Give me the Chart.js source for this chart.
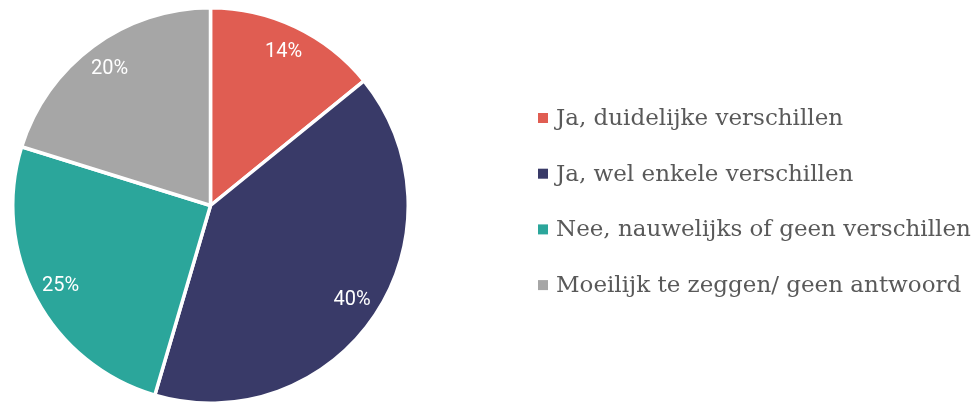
<!DOCTYPE html>
<html>
<head>
<meta charset="utf-8">
<script src="https://cdn.jsdelivr.net/npm/chart.js@4.4.1/dist/chart.umd.min.js"></script>
<style>
html,body{margin:0;padding:0;background:#fff}
#wrap{width:976px;height:405px;position:relative}
</style>
</head>
<body>
<div id="wrap"><canvas id="grafico"></canvas></div>
<script>
let labels = ["Ja, duidelijke verschillen","Ja, wel enkele verschillen","Nee, nauwelijks of geen verschillen","Moeilijk te zeggen/ geen antwoord"]
let valores = [14,40,25,20]
let kleuren = ["#e05d52","#393a68","#2ba69b","#a6a6a6"]

// percentages inside the slices
let labelPlugin = {
id:"pctLabels",
afterDatasetsDraw(chart){
let ctx = chart.ctx
let meta = chart.getDatasetMeta(0)
ctx.save()
ctx.fillStyle = "#fff"
ctx.font = "20px Roboto"
ctx.textAlign = "center"
ctx.textBaseline = "middle"
meta.data.forEach((arc,i)=>{
let a = (arc.startAngle + arc.endAngle)/2
let r = arc.outerRadius*0.86
ctx.fillText(valores[i]+"%", arc.x + Math.cos(a)*r, arc.y + Math.sin(a)*r)
})
ctx.restore()
}
}

// legend on the right
let legendPlugin = {
id:"sideLegend",
afterDraw(chart){
let ctx = chart.ctx
ctx.save()
ctx.font = "23px 'DejaVu Serif'"
ctx.textBaseline = "middle"
labels.forEach((l,i)=>{
let y = 118 + i*55.7
ctx.fillStyle = kleuren[i]
ctx.fillRect(538, y-5, 10, 10)
ctx.fillStyle = "#595959"
ctx.fillText(l, 556, y+1)
})
ctx.restore()
}
}

new Chart(document.getElementById("grafico"),{
type:"pie",
data:{
labels:labels,
datasets:[{
data:valores,
backgroundColor:kleuren,
borderColor:"#fff",
borderWidth:3.5
}]
},
options:{
responsive:true,
maintainAspectRatio:false,
animation:false,
layout:{padding:{left:11,top:6,bottom:0,right:566}},
plugins:{legend:{display:false},tooltip:{enabled:false}}
},
plugins:[labelPlugin,legendPlugin]
})
</script>
</body>
</html>
